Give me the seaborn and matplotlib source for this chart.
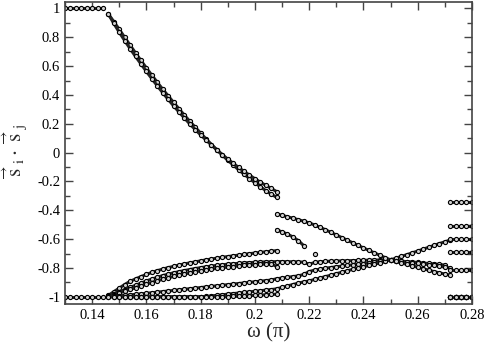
import numpy as np
import pandas as pd
import matplotlib
matplotlib.use('Agg')
import matplotlib.pyplot as plt
import seaborn as sns
from matplotlib.ticker import MultipleLocator, FuncFormatter

STEP = 0.002

# flat parts at the left (omega 0.130 .. 0.144)
X_LEFT = 0.130
TOP_FLAT = [1.0, 1.0, 1.0, 1.0, 1.0, 1.0, 1.0, 1.0]
BOTTOM_FLAT = [-1.0, -1.0, -1.0, -1.0, -1.0, -1.0, -1.0, -1.0]

# curves starting at omega = 0.146
X_MID = 0.146
TOP_A = [0.961, 0.908, 0.855, 0.799, 0.745, 0.691, 0.639, 0.587, 0.537, 0.488,
         0.440, 0.394, 0.349, 0.304, 0.260, 0.217, 0.176, 0.135, 0.095, 0.056,
         0.019, -0.018, -0.053, -0.086, -0.119, -0.150, -0.180, -0.209, -0.237, -0.263,
         -0.288, -0.310]
TOP_B = [0.961, 0.896, 0.835, 0.777, 0.721, 0.667, 0.615, 0.563, 0.513, 0.464,
         0.416, 0.370, 0.325, 0.282, 0.240, 0.199, 0.160, 0.123, 0.087, 0.052,
         0.019, -0.014, -0.045, -0.074, -0.103, -0.130, -0.156, -0.181, -0.205, -0.227,
         -0.248, -0.270]
LOW_1 = [-0.990, -0.965, -0.940, -0.915, -0.893, -0.876, -0.860, -0.845, -0.831, -0.819,
         -0.808, -0.798, -0.789, -0.780, -0.772, -0.765, -0.758, -0.751, -0.744, -0.738,
         -0.732, -0.726, -0.721, -0.716, -0.711, -0.706, -0.701, -0.697, -0.692, -0.688,
         -0.684, -0.680]
LOW_2 = [-0.995, -0.980, -0.965, -0.950, -0.935, -0.920, -0.905, -0.890, -0.877, -0.865,
         -0.853, -0.843, -0.834, -0.826, -0.818, -0.811, -0.804, -0.798, -0.792, -0.787,
         -0.782, -0.778, -0.774, -0.771, -0.768, -0.765, -0.763, -0.761, -0.759, -0.758,
         -0.757, -0.756,
         -0.756, -0.757, -0.757, -0.758, -0.760, -0.775, -0.762, -0.757, -0.755, -0.753,
         -0.752, -0.751, -0.750, -0.749, -0.748, -0.747, -0.746, -0.745, -0.745, -0.744,
         -0.747, -0.750, -0.753, -0.756, -0.759, -0.762, -0.766, -0.769, -0.772, -0.776,
         -0.780]
LOW_3 = [-0.997, -0.985, -0.973, -0.961, -0.949, -0.937, -0.925, -0.913, -0.901, -0.890,
         -0.879, -0.869, -0.859, -0.850, -0.842, -0.834, -0.827, -0.820, -0.814, -0.808,
         -0.803, -0.798, -0.794, -0.790, -0.786, -0.783, -0.780, -0.777, -0.775, -0.773,
         -0.771, -0.790]
LOW_4 = [-0.998, -0.996, -0.993, -0.990, -0.987, -0.983, -0.980, -0.976, -0.972, -0.968,
         -0.964, -0.960, -0.956, -0.952, -0.948, -0.944, -0.940, -0.936, -0.932, -0.928,
         -0.924, -0.920, -0.916, -0.912, -0.908, -0.904, -0.900, -0.896, -0.892, -0.888,
         -0.884, -0.875,
         -0.870, -0.865, -0.860, -0.855, -0.845, -0.825, -0.815, -0.808, -0.802, -0.797,
         -0.792, -0.787, -0.783, -0.779, -0.775, -0.770, -0.765, -0.760, -0.755, -0.750,
         -0.744, -0.750, -0.755, -0.760, -0.764, -0.768, -0.772, -0.777, -0.782, -0.788,
         -0.794, -0.800]
LOW_5 = [-1.0, -1.0, -1.0, -1.0, -1.0, -1.0, -1.0, -1.0, -1.0, -1.0,
         -1.0, -1.0, -1.0, -1.0, -1.0, -1.0, -1.0, -1.0, -0.998, -0.994,
         -0.990, -0.986, -0.982, -0.978, -0.974, -0.970, -0.966, -0.962, -0.958, -0.954,
         -0.950, -0.945,
         -0.935, -0.925, -0.915, -0.905, -0.897, -0.890, -0.880, -0.870, -0.860, -0.850,
         -0.840, -0.830, -0.820, -0.810, -0.801, -0.792, -0.783, -0.774, -0.765, -0.755,
         -0.744, -0.732, -0.720, -0.708, -0.695, -0.683, -0.670, -0.657, -0.644, -0.631,
         -0.619, -0.606]
LOW_6 = [-1.0, -1.0, -1.0, -1.0, -1.0, -1.0, -1.0, -1.0, -1.0, -1.0,
         -1.0, -1.0, -1.0, -1.0, -1.0, -1.0, -1.0, -1.0, -1.0, -1.0,
         -1.0, -1.0, -1.0, -0.998, -0.996, -0.994, -0.992, -0.990, -0.988, -0.986,
         -0.984, -0.982]

# curves that appear after the jump at omega = 0.208
X_JUMP = 0.208
MID_1 = [-0.425, -0.435, -0.445, -0.455, -0.465, -0.476, -0.487, -0.502, -0.518, -0.535,
         -0.553, -0.571, -0.589, -0.607, -0.625, -0.643, -0.661, -0.678, -0.695, -0.712,
         -0.728, -0.744, -0.755, -0.765, -0.775, -0.785, -0.795, -0.805, -0.815, -0.825,
         -0.834, -0.842, -0.850]
MID_2 = [-0.535, -0.550, -0.565, -0.585, -0.610, -0.645]
MID_2_LAST = [-0.700]

# constant branches at the right edge (omega 0.272 .. 0.280)
X_RIGHT = 0.272
RIGHT_LEVELS = [-0.345, -0.507, -0.601, -0.691, -0.814, -1.0, -1.0, -1.0, -1.0, -1.0]
RIGHT_N = 5

segments = []


def add(x0, ys, name):
    xs = x0 + STEP * np.arange(len(ys))
    segments.append(pd.DataFrame({'omega': xs, 's': ys, 'seg': name}))


add(X_LEFT, TOP_FLAT, 'top_flat')
add(X_LEFT, BOTTOM_FLAT, 'bottom_flat')
add(X_MID, TOP_A, 'top_a')
add(X_MID, TOP_B, 'top_b')
for i, ys in enumerate([LOW_1, LOW_2, LOW_3, LOW_4, LOW_5, LOW_6]):
    add(X_MID, ys, 'low_%d' % i)
add(X_JUMP, MID_1, 'mid_1')
add(X_JUMP, MID_2, 'mid_2')
add(X_JUMP + STEP * (len(MID_2) + 1), MID_2_LAST, 'mid_2_last')
for i, lev in enumerate(RIGHT_LEVELS):
    add(X_RIGHT, [lev] * RIGHT_N, 'right_%d' % i)

df = pd.concat(segments, ignore_index=True)

sns.set_theme(style='ticks')
plt.rcParams['font.family'] = ['Liberation Serif', 'DejaVu Serif']
plt.rcParams['mathtext.fontset'] = 'stix'
plt.rcParams['axes.unicode_minus'] = False

fig = plt.figure(figsize=(4.85, 3.46), dpi=100)
ax = fig.add_axes([0.134, 0.1214, 0.839, 0.873])

sns.lineplot(data=df, x='omega', y='s', units='seg', estimator=None, sort=False,
             color='#222222', lw=2.2, marker='o', markersize=3.0,
             markerfacecolor='#d0d0d0', markeredgecolor='black', markeredgewidth=0.8,
             legend=False, ax=ax)

ax.set_xlim(0.13, 0.28)
ax.set_ylim(-1.05, 1.045)
ax.xaxis.set_major_locator(MultipleLocator(0.02))
ax.xaxis.set_minor_locator(MultipleLocator(0.01))
ax.yaxis.set_major_locator(MultipleLocator(0.2))
ax.yaxis.set_minor_locator(MultipleLocator(0.1))
fmt = FuncFormatter(lambda v, pos: '%g' % round(v, 3))
ax.xaxis.set_major_formatter(fmt)
ax.yaxis.set_major_formatter(fmt)
ax.tick_params(which='both', direction='in', top=True, right=True,
               colors='#444444', labelcolor='black', labelsize=10.5, width=1.0)
ax.tick_params(which='major', length=6)
ax.tick_params(which='minor', length=3.5)
for sp in ax.spines.values():
    sp.set_color('#444444')
    sp.set_linewidth(1.2)

ax.set_xlabel('ω (π)', fontsize=15, labelpad=1)
ax.set_ylabel(r'$\overset{\rightarrow}{\mathrm{s}}_{\mathrm{i}}\cdot\overset{\rightarrow}{\mathrm{s}}_{\mathrm{j}}$',
              fontsize=15, labelpad=5)

fig.savefig('out.png', dpi=100)
plt.close(fig)
